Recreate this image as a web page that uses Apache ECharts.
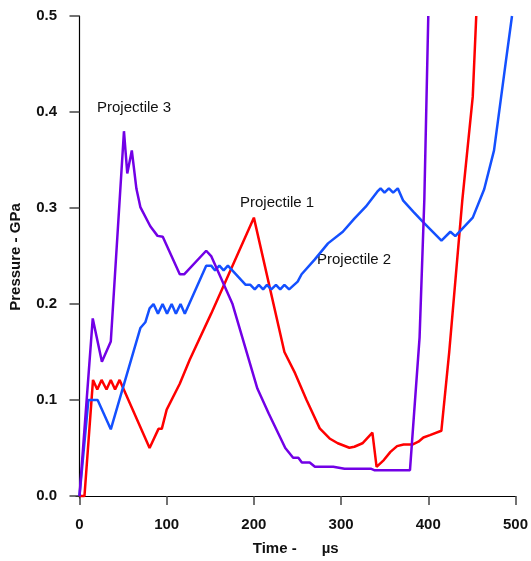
<!DOCTYPE html>
<html>
<head>
<meta charset="utf-8">
<script src="https://cdn.jsdelivr.net/npm/echarts@6/dist/echarts.min.js"></script>
<style>
  html, body { margin: 0; padding: 0; background: #fff; }
  #chart { width: 531px; height: 561px; }
</style>
</head>
<body>
<div id="chart"></div>
<script>
// time in µs, pressure in GPa
const p1Time = [0, 5.7, 15.5, 20.4, 25.3, 31, 35.9, 40.8, 46, 80.4, 90.6, 94.4, 100, 115, 126.4, 151, 200, 235, 247.2, 260.4, 275.5, 286.8, 296.2, 309.5, 315.2, 324.5, 335.9, 340.7, 349, 356.6, 364.2, 371.7, 382.3, 388.7, 394.4, 401.9, 415, 424, 439, 451, 455];
const p1Pressure = [0, 0, 0.121, 0.111, 0.121, 0.111, 0.121, 0.111, 0.121, 0.05, 0.07, 0.07, 0.09, 0.117, 0.142, 0.19, 0.29, 0.15, 0.128, 0.1, 0.0705, 0.06, 0.055, 0.0503, 0.0514, 0.055, 0.066, 0.0305, 0.0375, 0.046, 0.052, 0.0538, 0.0538, 0.0566, 0.061, 0.0635, 0.068, 0.15, 0.308, 0.416, 0.5];

const p2Time = [0, 10.2, 20.8, 35.9, 69.8, 75.5, 80.4, 84.9, 90, 95.3, 100.4, 105.7, 110.6, 115.9, 120.8, 145.3, 151, 155.5, 160.4, 165.3, 170.2, 190.6, 196, 201, 205.7, 210.6, 215, 220, 225.3, 230.2, 235, 240.4, 250.2, 254.7, 269.9, 285, 302, 315.2, 328.3, 341.5, 345.3, 349.8, 354.8, 359.7, 365, 371, 383, 394.4, 415.1, 425.3, 431, 451, 464.1, 475.4, 488.7, 496];
const p2Pressure = [0, 0.1, 0.1, 0.0695, 0.175, 0.181, 0.1955, 0.2, 0.19, 0.2, 0.19, 0.2, 0.19, 0.2, 0.19, 0.24, 0.24, 0.235, 0.24, 0.235, 0.24, 0.22, 0.22, 0.2153, 0.22, 0.2153, 0.22, 0.2153, 0.22, 0.2153, 0.22, 0.2153, 0.2233, 0.231, 0.2465, 0.2632, 0.2753, 0.289, 0.3014, 0.317, 0.3205, 0.316, 0.3205, 0.316, 0.3205, 0.308, 0.296, 0.285, 0.266, 0.2753, 0.2708, 0.29, 0.3195, 0.36, 0.451, 0.5];

const p3Time = [0, 15.2, 25.7, 35.9, 51, 54.8, 60, 65.3, 69.8, 81.2, 89.5, 95.5, 115, 120, 145.3, 151, 175.5, 204, 217, 236, 245, 251, 255, 264, 270, 291, 304, 334, 338, 379, 390, 395.5, 400];
const p3Pressure = [0, 0.185, 0.14, 0.161, 0.38, 0.336, 0.36, 0.32, 0.301, 0.281, 0.271, 0.27, 0.231, 0.231, 0.2555, 0.25, 0.2, 0.112, 0.086, 0.05, 0.04, 0.04, 0.035, 0.035, 0.0305, 0.0305, 0.0285, 0.0285, 0.027, 0.027, 0.165, 0.31, 0.5];

const xTicks = [0, 100, 200, 300, 400, 500];
const yTicks = [0, 0.1, 0.2, 0.3, 0.4, 0.5];

const zip = (xs, ys) => xs.map((x, i) => [x, ys[i]]);

const chart = echarts.init(document.getElementById("chart"), null, { renderer: "canvas" });

const lineSeries = (name, data, color) => ({
  name,
  type: "line",
  data,
  symbol: "none",
  clip: true,
  lineStyle: { width: 2.5, color },
  itemStyle: { color },
  z: 3,
});

const FONT = "Liberation Sans, Arial, sans-serif";
const labelFont = { fontFamily: FONT, fontWeight: "bold", fontSize: 15, color: "#111" };
const nameFont = { fontFamily: FONT, fontWeight: "bold", fontSize: 15, color: "#111" };
const noteFont = { fontFamily: FONT, fontSize: 15, fill: "#111" };

chart.setOption({
  animation: false,
  grid: { left: 74.8, right: 11, top: 16, bottom: 63, containLabel: false },
  xAxis: {
    type: "value",
    min: -4,
    max: 500,
    name: "Time -      µs",
    nameLocation: "middle",
    nameGap: 43,
    nameTextStyle: nameFont,
    axisLine: { show: true, lineStyle: { color: "#000", width: 1.2 } },
    axisTick: { show: true, length: 9, customValues: xTicks, lineStyle: { color: "#444", width: 1.5 } },
    axisLabel: { show: true, customValues: xTicks, margin: 19, ...labelFont },
    splitLine: { show: false },
  },
  yAxis: {
    type: "value",
    min: -0.002,
    max: 0.5,
    name: "Pressure - GPa",
    nameLocation: "middle",
    nameRotate: 90,
    nameGap: 53,
    nameTextStyle: nameFont,
    axisLine: { show: true, lineStyle: { color: "#000", width: 1.2 } },
    axisTick: { show: true, length: 10, customValues: yTicks, lineStyle: { color: "#444", width: 1.5 } },
    axisLabel: {
      show: true,
      customValues: yTicks,
      margin: 19,
      formatter: (v) => v.toFixed(1),
      ...labelFont,
    },
    splitLine: { show: false },
  },
  series: [
    lineSeries("Projectile 1", zip(p1Time, p1Pressure), "#ff0000"),
    lineSeries("Projectile 2", zip(p2Time, p2Pressure), "#1450ff"),
    lineSeries("Projectile 3", zip(p3Time, p3Pressure), "#7200e6"),
  ],
  graphic: [
    { type: "text", left: 97, top: 100, style: { text: "Projectile 3", ...noteFont } },
    { type: "text", left: 240, top: 195, style: { text: "Projectile 1", ...noteFont } },
    { type: "text", left: 317, top: 252, style: { text: "Projectile 2", ...noteFont } },
  ],
});
</script>
</body>
</html>
